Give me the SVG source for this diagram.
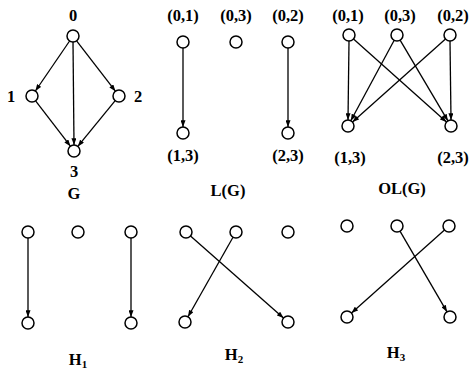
<svg xmlns="http://www.w3.org/2000/svg" width="475" height="370" viewBox="0 0 475 370">
<style>
.n{fill:#fff;stroke:#000;stroke-width:1.5}
.e{stroke:#000;stroke-width:1.3;fill:none;marker-end:url(#a)}
.t{font-family:"Liberation Serif","Times New Roman",serif;font-weight:bold;font-size:16.5px;text-anchor:middle;fill:#000}
.s{font-size:11px}
</style>
<defs>
<marker id="a" viewBox="0 0 8 6" refX="8" refY="3" markerWidth="7" markerHeight="5" markerUnits="userSpaceOnUse" orient="auto">
<path d="M0,0L8,3L0,6z" fill="#000"/>
</marker>
</defs>
<rect width="475" height="370" fill="#fff"/>
<g id="connectors">
<line class="e" x1="69.6" y1="41" x2="35.4" y2="91"/>
<line class="e" x1="76.6" y1="40.8" x2="115.4" y2="91.2"/>
<line class="e" x1="73" y1="42" x2="74" y2="145"/>
<line class="e" x1="35.6" y1="100.8" x2="70.4" y2="146.2"/>
<line class="e" x1="115.2" y1="100.6" x2="77.8" y2="146.4"/>
<line class="e" x1="183" y1="48" x2="183" y2="127"/>
<line class="e" x1="288" y1="48" x2="288" y2="127"/>
<line class="e" x1="349" y1="41" x2="348" y2="120"/>
<line class="e" x1="353.5" y1="39" x2="446.5" y2="122"/>
<line class="e" x1="394.2" y1="40.3" x2="350.8" y2="120.7"/>
<line class="e" x1="400.1" y1="40.2" x2="447.9" y2="120.8"/>
<line class="e" x1="445.5" y1="39" x2="352.5" y2="122"/>
<line class="e" x1="450" y1="41" x2="451" y2="120"/>
<line class="e" x1="28" y1="238" x2="28" y2="317"/>
<line class="e" x1="131" y1="238" x2="131" y2="317"/>
<line class="e" x1="190.5" y1="236" x2="283.5" y2="318"/>
<line class="e" x1="233" y1="237.2" x2="188" y2="316.8"/>
<line class="e" x1="400" y1="231.2" x2="447" y2="311.8"/>
<line class="e" x1="444.5" y1="230" x2="351.5" y2="313"/>
</g>
<g id="G">
<g id="g0"><circle class="n" cx="73" cy="36" r="6"/><text class="t" x="73" y="21">0</text></g>
<g id="g1"><circle class="n" cx="32" cy="96" r="6"/><text class="t" x="11" y="102">1</text></g>
<g id="g2"><circle class="n" cx="119" cy="96" r="6"/><text class="t" x="138" y="102">2</text></g>
<g id="g3"><circle class="n" cx="74" cy="151" r="6"/><text class="t" x="74" y="177">3</text></g>
<text class="t" x="74" y="199">G</text>
</g>
<g id="LG">
<g id="l01"><circle class="n" cx="183" cy="42" r="6"/><text class="t" x="183" y="21">(0,1)</text></g>
<g id="l03"><circle class="n" cx="236" cy="42" r="6"/><text class="t" x="236" y="21">(0,3)</text></g>
<g id="l02"><circle class="n" cx="288" cy="42" r="6"/><text class="t" x="288" y="21">(0,2)</text></g>
<g id="l13"><circle class="n" cx="183" cy="133" r="6"/><text class="t" x="183" y="161">(1,3)</text></g>
<g id="l23"><circle class="n" cx="288" cy="133" r="6"/><text class="t" x="288" y="161">(2,3)</text></g>
<text class="t" x="228" y="196">L(G)</text>
</g>
<g id="OLG">
<g id="o01"><circle class="n" cx="349" cy="35" r="6"/><text class="t" x="348" y="21">(0,1)</text></g>
<g id="o03"><circle class="n" cx="397" cy="35" r="6"/><text class="t" x="400" y="21">(0,3)</text></g>
<g id="o02"><circle class="n" cx="450" cy="35" r="6"/><text class="t" x="453" y="21">(0,2)</text></g>
<g id="o13"><circle class="n" cx="348" cy="126" r="6"/><text class="t" x="350" y="163">(1,3)</text></g>
<g id="o23"><circle class="n" cx="451" cy="126" r="6"/><text class="t" x="453" y="163">(2,3)</text></g>
<text class="t" x="402" y="194">OL(G)</text>
</g>
<g id="H1">
<circle class="n" cx="28" cy="232" r="6"/>
<circle class="n" cx="78" cy="232" r="6"/>
<circle class="n" cx="131" cy="232" r="6"/>
<circle class="n" cx="28" cy="323" r="6"/>
<circle class="n" cx="131" cy="323" r="6"/>
<text class="t" x="78" y="365">H<tspan class="s" dy="3">1</tspan></text>
</g>
<g id="H2">
<circle class="n" cx="186" cy="232" r="6"/>
<circle class="n" cx="236" cy="232" r="6"/>
<circle class="n" cx="288" cy="232" r="6"/>
<circle class="n" cx="185" cy="322" r="6"/>
<circle class="n" cx="288" cy="322" r="6"/>
<text class="t" x="234" y="360">H<tspan class="s" dy="3">2</tspan></text>
</g>
<g id="H3">
<circle class="n" cx="347" cy="226" r="6"/>
<circle class="n" cx="397" cy="226" r="6"/>
<circle class="n" cx="449" cy="226" r="6"/>
<circle class="n" cx="347" cy="317" r="6"/>
<circle class="n" cx="450" cy="317" r="6"/>
<text class="t" x="396" y="358">H<tspan class="s" dy="3">3</tspan></text>
</g>
</svg>
